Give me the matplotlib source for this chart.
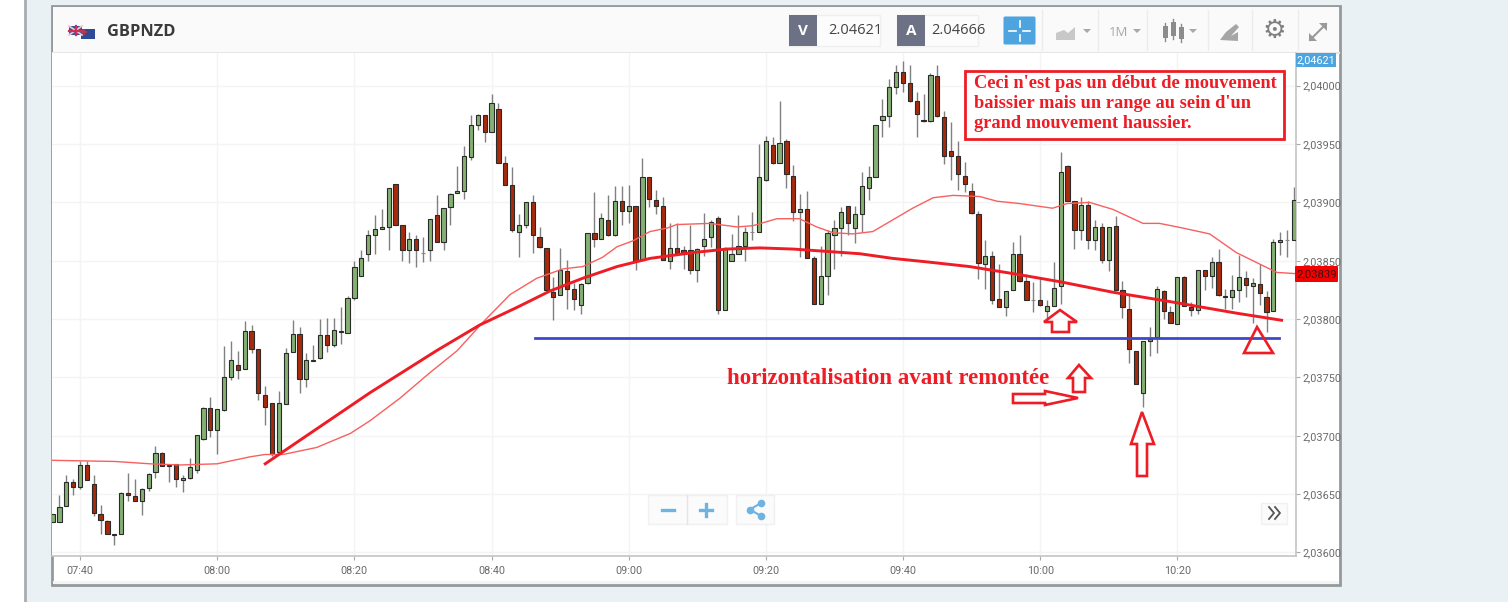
import matplotlib
matplotlib.use("Agg")
import matplotlib.pyplot as plt
from matplotlib.patches import Rectangle, Polygon, FancyBboxPatch

# prices are stored in points above 2.00000 (3626 = 2,03626), one candle per minute from 07:36
opens = [3626,3626,3640,3660,3656,3675,3659,3633,3627,3616,
         3616,3651,3648,3644,3655,3669,3685,3675,3676,3662,
         3664,3671,3697,3724,3705,3722,3750,3761,3757,3790,
         3774,3735,3728,3686,3727,3772,3787,3749,3764,3767,
         3786,3778,3789,3788,3818,3837,3856,3872,3877,3879,
         3916,3881,3859,3869,3857,3859,3889,3866,3896,3908,
         3910,3939,3966,3975,3960,3980,3934,3915,3875,3881,
         3900,3870,3861,3823,3821,3841,3826,3812,3831,3874,
         3869,3885,3872,3901,3893,3897,3851,3922,3902,3897,
         3850,3861,3859,3859,3842,3863,3870,3887,3808,3850,
         3856,3863,3875,3875,3919,3949,3934,3953,3923,3892,
         3894,3852,3813,3837,3872,3878,3897,3878,3890,3912,
         3922,3971,3974,3999,4012,4002,3987,3971,3970,4008,
         3973,3944,3940,3923,3910,3890,3847,3854,3817,3810,
         3825,3856,3833,3816,3816,3807,3811,3828,3931,3901,
         3876,3898,3868,3879,3851,3880,3825,3809,3773,3737,
         3781,3785,3824,3806,3796,3836,3810,3808,3842,3837,
         3849,3820,3819,3825,3835,3828,3830,3819,3807,3866,
         3868,3868]
closes = [3633,3639,3660,3656,3675,3662,3634,3628,3616,3615,
          3651,3649,3644,3654,3667,3685,3674,3674,3663,3664,
          3673,3701,3724,3705,3723,3750,3765,3756,3790,3774,
          3737,3725,3684,3728,3771,3787,3749,3765,3765,3786,
          3778,3791,3790,3818,3845,3852,3872,3877,3879,3912,
          3881,3859,3869,3859,3857,3886,3866,3895,3907,3910,
          3940,3966,3975,3960,3985,3934,3915,3876,3881,3900,
          3872,3862,3825,3819,3842,3826,3817,3830,3874,3869,
          3887,3872,3901,3893,3897,3850,3922,3903,3897,3851,
          3861,3857,3856,3842,3860,3869,3883,3808,3861,3856,
          3863,3875,3875,3922,3953,3934,3951,3924,3892,3894,
          3852,3813,3837,3874,3878,3892,3882,3890,3914,3922,
          3966,3974,3999,4012,4002,3987,3976,3970,4009,3974,
          3940,3940,3924,3916,3891,3848,3854,3816,3810,3824,
          3856,3833,3816,3816,3812,3811,3827,3926,3901,3876,
          3898,3868,3879,3851,3879,3825,3810,3774,3744,3781,
          3783,3826,3807,3797,3836,3811,3808,3842,3837,3849,
          3821,3819,3825,3836,3829,3831,3822,3806,3866,3868,
          3868,3902]
highs = [3633,3649,3666,3663,3678,3678,3666,3641,3628,3616,
         3652,3668,3663,3655,3668,3691,3686,3676,3676,3666,
         3681,3701,3725,3733,3723,3777,3781,3773,3798,3795,
         3774,3743,3728,3738,3775,3799,3793,3771,3778,3800,
         3801,3801,3810,3820,3850,3859,3876,3889,3894,3912,
         3916,3881,3875,3872,3870,3886,3906,3895,3908,3931,
         3948,3975,3976,3975,3993,3985,3940,3930,3890,3900,
         3906,3879,3861,3836,3861,3851,3831,3831,3874,3909,
         3891,3906,3914,3914,3915,3897,3938,3922,3911,3905,
         3882,3882,3863,3881,3861,3891,3885,3888,3862,3873,
         3889,3879,3892,3950,3957,3956,3987,3954,3932,3907,
         3910,3854,3863,3876,3885,3896,3897,3897,3926,3931,
         3966,3989,4006,4018,4021,4018,3995,3993,4011,4018,
         3978,3969,3953,3935,3917,3893,3868,3858,3847,3824,
         3866,3872,3839,3832,3836,3816,3849,3943,3932,3901,
         3905,3901,3885,3882,3879,3888,3833,3821,3773,3781,
         3793,3828,3825,3811,3836,3837,3815,3842,3842,3853,
         3860,3826,3838,3855,3841,3835,3847,3824,3869,3875,
         3876,3913]
lows = [3626,3626,3640,3649,3654,3662,3631,3616,3616,3606,
        3616,3644,3644,3632,3653,3664,3674,3660,3656,3652,
        3663,3668,3696,3699,3684,3721,3748,3749,3757,3771,
        3731,3709,3683,3686,3727,3772,3737,3742,3764,3766,
        3772,3776,3779,3788,3816,3837,3850,3856,3877,3859,
        3881,3850,3848,3845,3849,3850,3866,3859,3881,3908,
        3903,3936,3962,3952,3960,3934,3915,3875,3853,3878,
        3857,3861,3825,3799,3821,3809,3808,3804,3830,3862,
        3869,3871,3871,3881,3882,3842,3851,3896,3890,3851,
        3843,3856,3843,3839,3832,3854,3862,3804,3808,3850,
        3856,3850,3868,3875,3918,3933,3934,3912,3884,3853,
        3852,3813,3813,3821,3843,3854,3872,3865,3875,3902,
        3922,3956,3965,3993,3995,3986,3956,3969,3969,3973,
        3933,3919,3911,3909,3890,3834,3826,3813,3810,3803,
        3825,3832,3816,3806,3811,3800,3811,3813,3901,3860,
        3868,3860,3859,3848,3841,3825,3801,3762,3744,3725,
        3768,3771,3800,3797,3796,3811,3803,3804,3825,3827,
        3820,3809,3809,3815,3819,3797,3812,3789,3807,3855,
        3853,3868]

# moving average, read at the bends of the thin red line (x = candle number)
ma_x = [-0.1,9.1,14.2,18.6,24,28.8,31,33.6,38.5,43.4,46.3,50.6,55,59,62.7,66.7,70.6,72.5,74.4,77.3,
        80.2,82.3,84.6,87.1,89.6,91,95.8,99.8,102.1,105.6,108.9,111.4,113.8,116.7,119.6,122.5,125.4,
        128.4,131.3,135.2,137.7,141,145.8,147.9,151.2,154.6,159,161.4,164.8,168.7,172.6,176.4,178.5,181.1]
ma_y = [3679,3678,3676,3675,3676,3682,3684,3684,3690,3702,3713,3732,3754,3773,3797,3821,3835,3839,3843,3845,
        3853,3862,3867,3875,3878,3881,3882,3879,3880,3886,3886,3879,3874,3873,3875,3885,3895,
        3904,3906,3905,3901,3899,3895,3899,3900,3894,3882,3882,3878,3873,3857,3846,3840,3839]

# hand drawn thick red curve
trend_x = [31,46.3,56,62.3,67.7,72.5,77.3,82.3,87.1,93.4,98.3,103.1,108,112.9,117.7,122.5,127.5,133.7,140,146.9,154.6,162.9,172.7,179.2]
trend_y = [3676,3737,3773,3795,3810,3824,3835,3845,3852,3857,3860,3861,3860,3858,3856,3852,3849,3845,3839,3832,3823,3815,3805,3799]

level_x = [70.4,178.8]
level_y = [3784,3784]

time_ticks = [4,24,44,64,84,104,124,144,164]
time_labels = ["07:40","08:00","08:20","08:40","09:00","09:20","09:40","10:00","10:20"]
price_ticks = [3600,3650,3700,3750,3800,3850,3900,3950,4000]
price_labels = ["2,03600","2,03650","2,03700","2,03750","2,03800","2,03850","2,03900","2,03950","2,04000"]

def price(p):
    return 2 + p / 100000

W, H = 1508, 602
fig = plt.figure(figsize=(W / 100, H / 100), dpi=100)
plt.rcParams['font.family'] = ['Open Sans', 'DejaVu Sans']

# screenshot chrome, in pixels
page = fig.add_axes([0, 0, 1, 1], zorder=0)
page.set_xlim(0, W)
page.set_ylim(H, 0)
page.axis('off')
page.add_patch(Rectangle((0, 0), W, H, fc='white', ec='none'))
page.add_patch(Rectangle((25, 0), W - 25, H, fc='#e9f1f5', ec='none'))
page.plot([25, 25], [0, H], color='#a9adb0', lw=2)
page.add_patch(Rectangle((52, 6), 1288, 579, fc='white', ec='#96999b', lw=2))
page.add_patch(Rectangle((53, 7), 1286, 45, fc='#fafafa', ec='none'))
page.plot([53, 1339], [52.5, 52.5], color='#e6e6e6', lw=1.5)
page.add_patch(Rectangle((53, 581), 1286, 3, fc='#f4f4f4', ec='none'))

# flags
page.add_patch(Rectangle((69, 26), 13, 9, fc='#3c4f9b', ec='none'))
page.plot([69, 82], [26, 35], color='#e9c7cf', lw=1.3)
page.plot([69, 82], [35, 26], color='#e9c7cf', lw=1.3)
page.plot([75.5, 75.5], [26, 35], color='#c8324f', lw=1.6)
page.plot([69, 82], [30.5, 30.5], color='#c8324f', lw=1.6)
page.add_patch(Rectangle((81, 29), 14, 10, fc='#2f4a94', ec='none'))
page.plot([84, 84], [30, 34], color='#c8324f', lw=1.2)
page.plot([82, 86], [32, 32], color='#c8324f', lw=1.2)
page.text(107, 32, "GBPNZD", fontsize=11.8, fontweight='bold', color='#3a3a3a', va='center')

# toolbar
for x0, x1, letter, val in [(789, 876, "V", "2.04621"), (897, 974, "A", "2.04666")]:
    page.add_patch(Rectangle((x0, 15), x1 - x0 + 4, 31, fc='#fcfcfc', ec='#efefef', lw=1))
    page.add_patch(Rectangle((x0, 15), 28, 31, fc='#6c7186', ec='none'))
    page.text(x0 + 14, 31, letter, color='white', fontsize=11, fontweight='bold', ha='center', va='center')
    page.text(x0 + 66 if letter == "V" else x0 + 61, 31, val, color='#444444', fontsize=10.5, ha='center', va='center')
page.add_patch(FancyBboxPatch((1005, 18), 29, 25, boxstyle="round,pad=1.5", fc='#4da4de', ec='none'))
page.plot([1009, 1016], [31, 31], color='white', lw=1.2)
page.plot([1023, 1030], [31, 31], color='white', lw=1.2)
page.plot([1019.5, 1019.5], [21, 27], color='white', lw=1.2)
page.plot([1019.5, 1019.5], [35, 41], color='white', lw=1.2)
for x in [1042, 1098, 1147, 1208, 1252, 1298]:
    page.plot([x, x], [10, 50], color='#ececec', lw=1)
page.add_patch(Polygon([(1056, 40), (1056, 33), (1064, 30), (1068, 33), (1075, 27), (1075, 40)], fc='#c8c8c8', ec='none'))
page.text(1118, 32, "1M", fontsize=9.5, color='#a8a8a8', ha='center', va='center')
for x in [1087, 1137, 1193]:
    page.add_patch(Polygon([(x - 4, 29), (x + 4, 29), (x, 33)], fc='#a8a8a8', ec='none'))
for x, y0, y1 in [(1165, 26, 38), (1173, 22, 36), (1181, 27, 39)]:
    page.plot([x, x], [y0 - 3, y1 + 3], color='#8c8c8c', lw=1)
    page.add_patch(Rectangle((x - 2.5, y0), 5, y1 - y0, fc='#8c8c8c', ec='none'))
page.add_patch(Polygon([(1220, 40), (1226, 32), (1236, 24), (1239, 27), (1231, 36), (1238, 32), (1238, 41)], fc='#a6a6a6', ec='none'))
page.text(1274, 31, "\u2699", fontsize=19, color='#808080', ha='center', va='center', family='DejaVu Sans', fontweight='bold')
page.plot([1310, 1326], [40, 24], color='#9a9a9a', lw=1.5)
page.add_patch(Polygon([(1319, 23), (1327, 23), (1327, 31)], fc='#9a9a9a', ec='none'))
page.add_patch(Polygon([(1309, 33), (1309, 41), (1317, 41)], fc='#9a9a9a', ec='none'))

# the chart itself
ax = fig.add_axes([52 / W, 1 - 556 / H, (1296 - 52) / W, (556 - 53) / H], zorder=1)
ax.set_xlim(-0.09, 181.3)
ax.set_ylim(price(3597), price(4028))
ax.set_xticks(time_ticks)
ax.set_xticklabels(time_labels, family='Roboto')
ax.set_yticks([price(p) for p in price_ticks])
ax.set_yticklabels(price_labels, family='Roboto')
ax.yaxis.tick_right()
ax.grid(color='#f4f4f4', lw=1)
ax.set_axisbelow(True)
ax.tick_params(axis='both', labelsize=7.8, labelcolor='#6a6a6a', color='#aaaaaa', length=3, width=0.8, pad=2)
ax.tick_params(axis='x', pad=4)
for s in ['top', 'left']:
    ax.spines[s].set_visible(False)
for s in ['right', 'bottom']:
    ax.spines[s].set_color('#c4c4c4')
    ax.spines[s].set_linewidth(1.2)

for i in range(len(opens)):
    ax.plot([i, i], [price(lows[i]), price(highs[i])], color='#808080', lw=1, zorder=2, solid_capstyle='butt')
    up = closes[i] >= opens[i]
    flat = closes[i] == opens[i]
    ax.bar(i, price(closes[i]) - price(opens[i]), bottom=price(opens[i]), width=0.62,
           color='#84b172' if up else '#a82a0c', edgecolor='#888888' if flat else '#2a2a2a',
           lw=0.8, zorder=3)

ax.plot(ma_x, [price(p) for p in ma_y], color='#f8605f', lw=1, zorder=4)
ax.plot(trend_x, [price(p) for p in trend_y], color='#ee1c25', lw=2.1, zorder=5)
ax.plot(level_x, [price(p) for p in level_y], color='#3f48cc', lw=2, zorder=5)

# everything stuck on top of the chart, in pixels
over = fig.add_axes([0, 0, 1, 1], zorder=2)
over.set_xlim(0, W)
over.set_ylim(H, 0)
over.axis('off')
over.patch.set_alpha(0)

over.add_patch(Rectangle((1296, 53), 40, 14, fc='#4da4de', ec='none'))
over.text(1316, 60, "2,04621", color='white', fontsize=7.8, ha='center', va='center', family='Roboto')
over.add_patch(FancyBboxPatch((1296, 267), 41, 14, boxstyle="round,pad=1", fc='#f40000', ec='none'))
over.text(1316.5, 274, "2,03839", color='#3a1010', fontsize=8.2, ha='center', va='center', family='Roboto')

# zoom and share buttons
for x0, x1, y0, y1 in [(648, 727, 495, 524), (736, 774, 495, 524), (1261, 1287, 503, 524)]:
    over.add_patch(Rectangle((x0, y0), x1 - x0, y1 - y0, fc='#fbfbfb', ec='#f0f0f0', lw=1))
over.plot([687, 687], [495, 524], color='#e4e4e4', lw=1)
over.plot([662, 674], [509.5, 509.5], color='#6db4e2', lw=2.4)
over.plot([700, 712], [509.5, 509.5], color='#6db4e2', lw=2.4)
over.plot([706, 706], [503.5, 515.5], color='#6db4e2', lw=2.4)
over.plot([761, 750, 761], [503, 509.5, 516], color='#6db4e2', lw=1.5, marker='o', ms=4.5)
over.plot([1269, 1274, 1269], [507, 513, 519], color='#555555', lw=1.3)
over.plot([1275, 1280, 1275], [507, 513, 519], color='#555555', lw=1.3)

# hand drawn marks
red = '#ee1c25'
arrow_up_1 = [(1060, 310), (1077, 322), (1069, 322), (1069, 332), (1052, 332), (1052, 322), (1044, 322)]
arrow_up_2 = [(1079, 365), (1091, 378), (1085, 378), (1085, 392), (1073, 392), (1073, 378), (1068, 378)]
arrow_up_3 = [(1142, 412), (1154, 444), (1147, 444), (1147, 476), (1137, 476), (1137, 444), (1131, 444)]
arrow_right = [(1013, 394), (1045, 394), (1045, 391), (1078, 398), (1045, 405), (1045, 403), (1013, 403)]
triangle = [(1257, 327), (1273, 353), (1244, 353)]
for shape in [arrow_up_1, arrow_up_2, arrow_up_3, arrow_right, triangle]:
    over.add_patch(Polygon(shape, closed=True, fc='none', ec=red, lw=1.9))

over.add_patch(Rectangle((964.5, 71), 319, 68, fc='white', ec=red, lw=2))
box_lines = ["Ceci n'est pas un début de mouvement", "baissier mais un range au sein d'un", "grand mouvement haussier."]
for y, line in zip([84, 104, 123], box_lines):
    over.text(974, y, line, color=red, fontsize=13.25, fontweight='bold', family='Liberation Serif', va='center')
over.text(727, 379, "horizontalisation avant remontée", color=red, fontsize=16.5, fontweight='bold',
          family='Liberation Serif', va='center')

fig.savefig("out.png", dpi=100)
